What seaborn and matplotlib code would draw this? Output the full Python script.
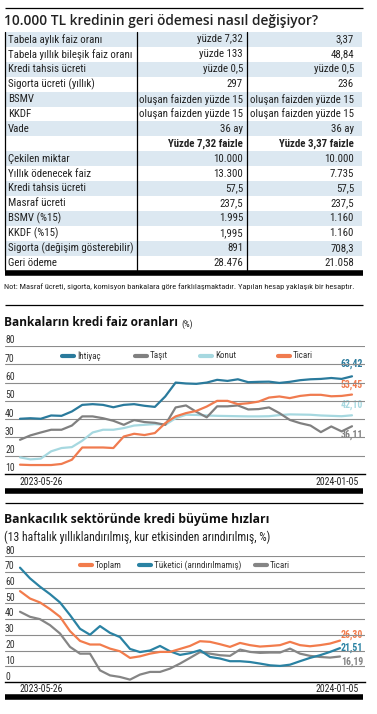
import pandas as pd
import seaborn as sns
import matplotlib.pyplot as plt
from matplotlib import font_manager
from matplotlib.patches import Rectangle
from matplotlib.transforms import blended_transform_factory

# Tablo verisi
kosul_etiket = ["Tabela aylık faiz oranı", "Tabela yıllık bileşik faiz oranı", "Kredi tahsis ücreti",
                "Sigorta ücreti (yıllık)", "BSMV", "KKDF", "Vade"]
kosul_732 = ["yüzde 7,32", "yüzde 133", "yüzde 0,5", "297", "oluşan faizden yüzde 15",
             "oluşan faizden yüzde 15", "36 ay"]
kosul_337 = ["3,37", "48,84", "yüzde 0,5", "236", "oluşan faizden yüzde 15",
             "oluşan faizden yüzde 15", "36 ay"]
basliklar = ["Yüzde 7,32 faizle", "Yüzde 3,37 faizle"]
odeme_etiket = ["Çekilen miktar", "Yıllık ödenecek faiz", "Kredi tahsis ücreti", "Masraf ücreti",
                "BSMV (%15)", "KKDF (%15)", "Sigorta (değişim gösterebilir)", "Geri ödeme"]
odeme_732 = ["10.000", "13.300", "57,5", "237,5", "1.995", "1,995", "891", "28.476"]
odeme_337 = ["10.000", "7.735", "57,5", "237,5", "1.160", "1.160", "708,3", "21.058"]

# Haftalık seriler 2023-05-26 .. 2024-01-05
tarih = pd.date_range("2023-05-26", "2024-01-05", freq="7D")

ihtiyac = [40.2, 40.5, 40.2, 42.0, 41.8, 44.2, 47.8, 48.2, 47.8, 46.5, 47.8, 48.2, 47.3, 46.7, 52.4, 60.0, 59.5,
           59.3, 60.0, 61.5, 60.9, 61.8, 60.2, 60.4, 60.5, 59.8, 60.4, 61.3, 61.8, 62.0, 62.5, 62.0, 63.42]
tasit = [28.7, 31.1, 32.7, 34.2, 34.2, 36.5, 41.5, 41.5, 40.5, 39.1, 36.9, 39.5, 38.4, 38.0, 36.9, 46.4, 47.5,
         44.0, 41.0, 47.0, 47.0, 47.5, 45.3, 45.5, 46.4, 43.3, 39.6, 37.8, 36.5, 32.9, 36.0, 33.3, 36.11]
konut = [19.1, 18.0, 18.4, 22.4, 24.2, 24.7, 28.2, 32.7, 34.2, 34.2, 35.1, 36.5, 36.9, 37.3, 36.9, 40.5, 42.4,
         42.3, 42.0, 41.8, 41.7, 41.6, 41.5, 41.5, 41.6, 42.2, 42.6, 42.5, 42.4, 42.0, 41.8, 41.6, 42.10]
ticari = [15.1, 14.9, 14.9, 14.9, 15.5, 17.8, 24.5, 24.5, 24.5, 24.2, 30.5, 32.0, 31.3, 32.4, 37.8, 41.5, 43.3,
          44.5, 46.9, 50.0, 50.0, 48.2, 48.7, 49.6, 51.8, 52.4, 51.5, 52.7, 53.3, 53.3, 52.5, 52.7, 53.45]

toplam = [57.7, 53.0, 50.5, 46.3, 41.4, 32.3, 26.1, 23.8, 23.8, 21.2, 19.5, 15.3, 16.3, 18.0, 19.1, 19.1, 21.0,
          22.9, 25.9, 25.5, 24.0, 22.3, 24.8, 23.4, 22.5, 22.9, 23.4, 25.5, 23.4, 22.7, 23.4, 24.4, 26.30]
tuketici = [72.6, 65.8, 60.5, 55.8, 50.5, 42.5, 33.8, 30.0, 35.5, 31.2, 28.5, 21.0, 19.0, 20.0, 22.9, 19.5, 17.2,
            18.3, 20.2, 15.9, 14.9, 13.2, 13.2, 12.7, 11.7, 10.6, 10.2, 11.0, 13.2, 15.3, 17.0, 19.1, 21.51]
ticari_kredi = [44.6, 41.4, 39.9, 36.1, 30.8, 22.3, 18.0, 18.0, 7.4, 4.2, 3.2, 1.5, 4.7, 6.4, 6.4, 8.5, 11.7,
                15.3, 19.0, 18.0, 17.0, 16.6, 20.6, 19.1, 18.5, 18.7, 18.7, 21.2, 18.0, 16.6, 15.9, 15.5, 16.19]

faiz_renk = {"İhtiyaç": "#2a7a9c", "Taşıt": "#808080", "Konut": "#a6d8e0", "Ticari": "#f07b4f"}
buyume_renk = {"Toplam": "#f27c4c", "Tüketici (arındırılmamış)": "#2a82a3", "Ticari": "#858585"}

sns.set_theme(style="white")
yuklu = {f.name for f in font_manager.fontManager.ttflist}
dar = next((f for f in ["Liberation Sans Narrow", "Roboto Condensed", "Open Sans Condensed"] if f in yuklu), "Roboto")
plt.rcParams['font.family'] = [dar, 'DejaVu Sans']
baslik_font = ['Open Sans', 'DejaVu Sans']

fig = plt.figure(figsize=(3.77, 7.14), dpi=100)
ov = fig.add_axes([0, 0, 1, 1])
ov.set_xlim(0, 377)
ov.set_ylim(714, 0)
ov.axis("off")


def yaz(x, y, s, size, ha="left", weight="normal", color="#222222", family=None):
    ov.text(x, y, s, fontsize=size, ha=ha, va="center", fontweight=weight, color=color,
            family=family if family else plt.rcParams['font.family'])


def cizgi(y, lw=1.0):
    ov.plot([5, 363], [y, y], color="black", lw=lw, solid_capstyle="butt")


# --- Tablo ---
cizgi(7.5, 0.9)
yaz(4, 21, "10.000 TL kredinin geri ödemesi nasıl değişiyor?", 9.9, weight="semibold", family=baslik_font)

satirlar = list(zip(kosul_etiket, kosul_732, kosul_337)) + [("", basliklar[0], basliklar[1])] + \
    list(zip(odeme_etiket, odeme_732, odeme_337))
tepe, h = 32, 14.9
for i, (et, a, b) in enumerate(satirlar):
    yt = tepe + i * h
    if i % 2 == 0:
        ov.add_patch(Rectangle((5, yt), 357, h, color="#dce8f1", lw=0))
    kalin = "bold" if et == "" else "normal"
    yaz(8, yt + h / 2, et, 7.8)
    yaz(243, yt + h / 2, a, 7.8, ha="right", weight=kalin)
    yaz(354, yt + h / 2, b, 7.8, ha="right", weight=kalin)
alt = tepe + len(satirlar) * h
for x in [5, 137, 247]:
    ov.plot([x, x], [tepe, alt], color="black", lw=0.9)
cizgi(alt + 3, 4)
yaz(4, 287, "Not: Masraf ücreti, sigorta, komisyon bankalara göre farklılaşmaktadır. "
    "Yapılan hesap yaklaşık bir hesaptır.", 6.0)
cizgi(305, 0.9)


# --- Grafikler ---
def grafik(ust, alt_px, sag_px, ymin, ymax, degerler, renkler, basla_px=20):
    ax = fig.add_axes([5 / 377, 1 - alt_px / 714, 360 / 377, (alt_px - ust) / 714])
    ax.set_facecolor("none")
    df = pd.DataFrame({"tarih": tarih, **degerler}).melt(id_vars="tarih", var_name="seri", value_name="deger")
    sns.lineplot(data=df, x="tarih", y="deger", hue="seri", palette=renkler, ax=ax, lw=1.6, legend=False)
    gun = (tarih[-1] - tarih[0]).days
    olcek = gun / (sag_px - basla_px)
    ax.set_xlim(tarih[0] - pd.Timedelta(days=(basla_px - 5) * olcek),
                tarih[-1] + pd.Timedelta(days=(365 - sag_px) * olcek))
    ax.set_ylim(ymin, ymax)
    for v in range(ymin + 10, ymax + 1, 10):
        ax.axhline(v, color="#8c8c8c", lw=0.8, zorder=0)
    for s in ["top", "left", "right"]:
        ax.spines[s].set_visible(False)
    ax.spines["bottom"].set_color("black")
    ax.spines["bottom"].set_linewidth(1.0)
    ax.set_xticks([])
    ax.set_yticks([])
    ax.set_xlabel("")
    ax.set_ylabel("")
    tr = blended_transform_factory(ax.transAxes, ax.transData)
    birim = (ymax - ymin) / (alt_px - ust)
    for v in range(ymin, ymax + 1, 10):
        ax.text(0.0, v + 5.5 * birim, str(v), transform=tr, fontsize=7, color="#333333", va="center", ha="left")
    return ax


ov.text(4, 323, "Bankaların kredi faiz oranları", fontsize=8.6, fontweight="bold", va="center",
        family=baslik_font, color="#111111")
ov.text(181, 324, "(%)", fontsize=6.5, va="center", color="#222222")
grafik(346, 474, 352, 10, 80,
       {"Konut": konut, "Taşıt": tasit, "Ticari": ticari, "İhtiyaç": ihtiyac}, faiz_renk)
for x, ad in zip([62, 135, 200, 278], ["İhtiyaç", "Taşıt", "Konut", "Ticari"]):
    ov.plot([x, x + 12], [356, 356], color=faiz_renk[ad], lw=3, solid_capstyle="round")
    yaz(x + 15, 356, ad, 6.5, color="#333333")
for y, s, ad in [(364, "63,42", "İhtiyaç"), (385, "53,45", "Ticari"), (405, "42,10", "Konut"),
                 (435, "36,11", "Taşıt")]:
    yaz(363, y, s, 7, ha="right", weight="bold", color=faiz_renk[ad])
yaz(20, 482, "2023-05-26", 7)
yaz(359, 482, "2024-01-05", 7, ha="right")
cizgi(490.5, 4)

cizgi(503, 0.9)
ov.text(4, 520, "Bankacılık sektöründe kredi büyüme hızları", fontsize=8.7, fontweight="bold", va="center",
        family=baslik_font, color="#111111")
yaz(4, 537, "(13 haftalık yıllıklandırılmış, kur etkisinden arındırılmış, %)", 8.5)
grafik(556, 682, 340, 0, 80,
       {"Ticari": ticari_kredi, "Tüketici (arındırılmamış)": tuketici, "Toplam": toplam}, buyume_renk)
for x, ad in zip([80, 139, 255], ["Toplam", "Tüketici (arındırılmamış)", "Ticari"]):
    ov.plot([x, x + 12], [565, 565], color=buyume_renk[ad], lw=3, solid_capstyle="round")
    yaz(x + 15, 565, ad, 6.5, color="#333333")
for y, s, ad in [(635, "26,30", "Toplam"), (648, "21,51", "Tüketici (arındırılmamış)"), (662, "16,19", "Ticari")]:
    yaz(363, y, s, 7, ha="right", weight="bold", color=buyume_renk[ad])
yaz(20, 689, "2023-05-26", 7)
yaz(359, 689, "2024-01-05", 7, ha="right")
cizgi(697, 4)

fig.savefig("out.png", dpi=100)
